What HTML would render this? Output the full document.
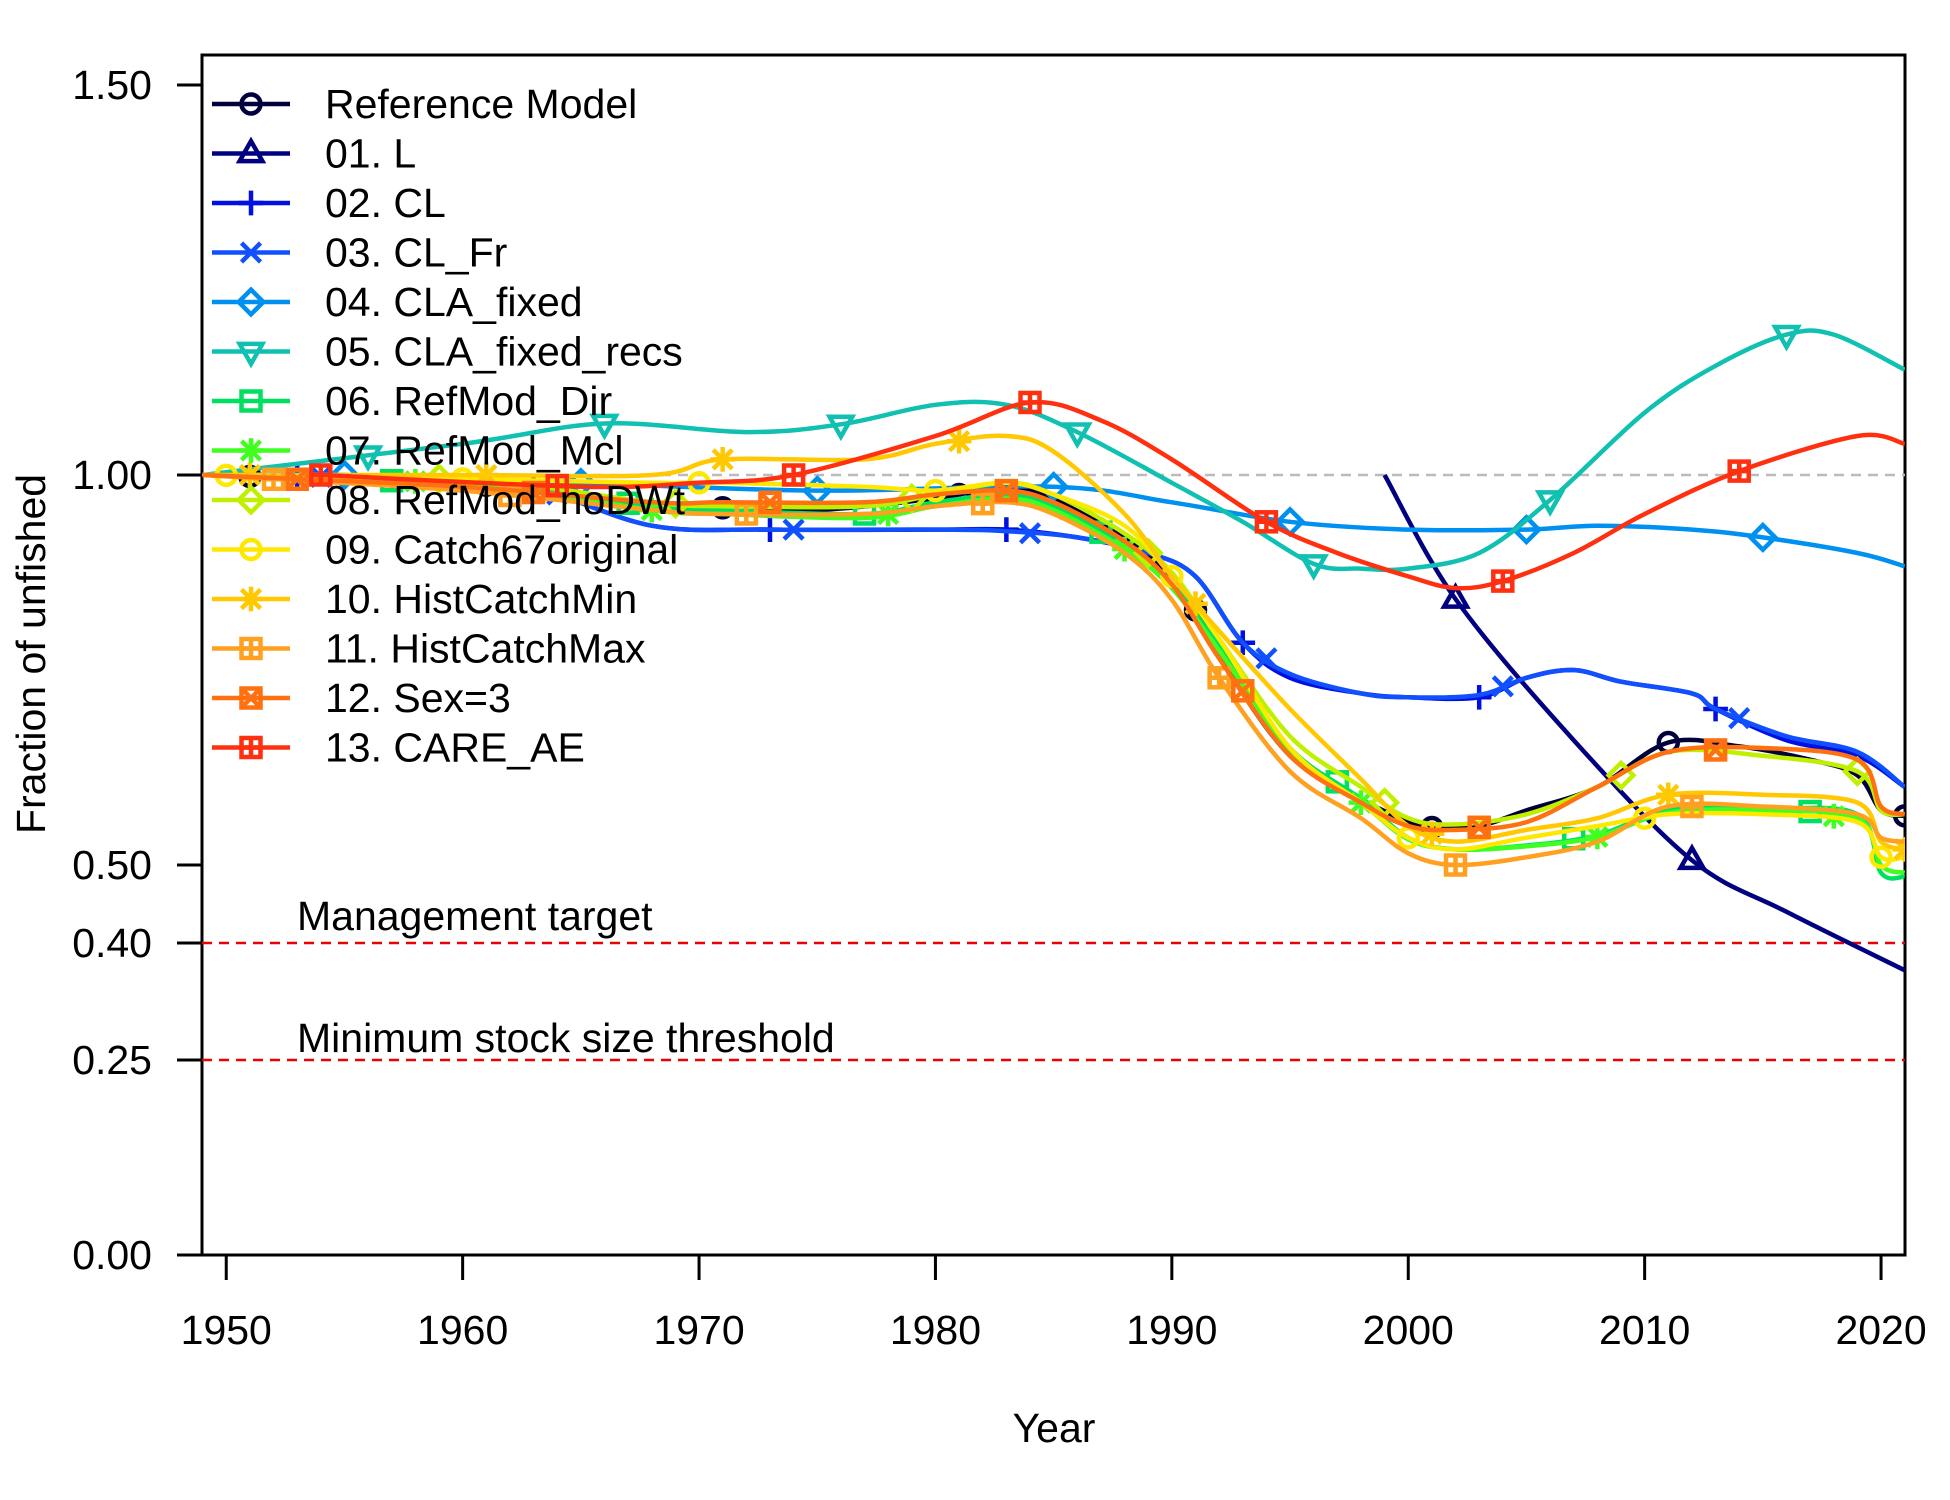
<!DOCTYPE html>
<html><head><meta charset="utf-8">
<style>
html,body{margin:0;padding:0;background:#fff;}
svg{display:block;font-family:"Liberation Sans",Arial,sans-serif;}
</style></head>
<body>
<svg id="chart" width="1950" height="1500" viewBox="0 0 1950 1500">
<g id="axes"></g><g id="series"></g><g id="legend"></g>
</svg>
<script>
const NS="http://www.w3.org/2000/svg";
const tickYears=[1950,1960,1970,1980,1990,2000,2010,2020];
const yTickVals=[0,0.25,0.4,0.5,1.0,1.5];
const yTickLabels=["0.00","0.25","0.40","0.50","1.00","1.50"];
const seriesNames=["Reference Model","01. L","02. CL","03. CL_Fr","04. CLA_fixed","05. CLA_fixed_recs","06. RefMod_Dir","07. RefMod_Mcl","08. RefMod_noDWt","09. Catch67original","10. HistCatchMin","11. HistCatchMax","12. Sex=3","13. CARE_AE"];
const seriesColors=["#00003a","#000080","#0010e0","#1050ff","#0090f0","#10c0b0","#00e060","#40ff20","#c0f000","#ffe800","#ffc800","#ffa020","#ff7010","#ff3010"];
const seriesMarkers=["circle","tri","plus","x","diamond","tridown","square","star","diamond","circle","star","squarep","squarex","squarep"];
const refYears=[1949,1960,1968,1971,1975,1980,1983,1985,1988,1990,1991,1993,1995,1997,2000,2001,2003,2005,2008,2011,2014,2017,2019,2020,2021];
const refVals=[1.0,0.99,0.965,0.958,0.955,0.97,0.985,0.97,0.92,0.87,0.827,0.72,0.64,0.6,0.555,0.548,0.55,0.57,0.6,0.657,0.652,0.635,0.615,0.57,0.563];
const lYears=[1999,2002,2007,2012,2016,2021];
const lVals=[1.0,0.841,0.66,0.506,0.44,0.365];
const clYears=[1952,1960,1963,1968,1973,1980,1983,1986,1989,1991,1993,1995,1998,2000,2003,2005,2007,2009,2012,2013,2016,2019,2021];
const clVals=[1.0,0.99,0.985,0.935,0.93,0.93,0.93,0.92,0.9,0.87,0.785,0.74,0.72,0.715,0.715,0.74,0.75,0.735,0.72,0.70,0.66,0.64,0.6];
const clfrVals=[1.0,0.99,0.985,0.935,0.93,0.93,0.928,0.92,0.9,0.87,0.785,0.745,0.72,0.715,0.718,0.74,0.75,0.735,0.72,0.70,0.665,0.645,0.6];
const claYears=[1949,1955,1965,1975,1985,1990,1995,2000,2005,2008,2012,2015,2019,2021];
const claVals=[1.0,1.0,0.99,0.98,0.985,0.965,0.94,0.93,0.93,0.935,0.93,0.92,0.9,0.883];
const recYears=[1949,1960,1966,1972,1976,1980,1983,1986,1990,1993,1996,1998,2000,2003,2006,2010,2013,2016,2018,2021];
const recVals=[1.0,1.04,1.066,1.055,1.065,1.09,1.09,1.055,0.99,0.94,0.886,0.88,0.88,0.9,0.968,1.08,1.14,1.18,1.18,1.135];
const hiYears=[1949,1960,1968,1971,1977,1980,1983,1985,1988,1990,1992,1995,1998,2000,2002,2005,2008,2011,2015,2019,2020,2021];
const dirVals=[1.0,0.99,0.96,0.955,0.95,0.965,0.975,0.96,0.91,0.86,0.78,0.65,0.585,0.535,0.52,0.525,0.538,0.57,0.572,0.565,0.49,0.485];
const mclVals=[1.0,0.99,0.955,0.95,0.945,0.96,0.97,0.955,0.905,0.855,0.775,0.648,0.58,0.533,0.52,0.524,0.536,0.567,0.57,0.56,0.5,0.49];
const nodwVals=[1.0,0.995,0.965,0.96,0.96,0.975,0.99,0.975,0.925,0.875,0.79,0.665,0.6,0.56,0.552,0.565,0.6,0.645,0.64,0.62,0.57,0.565];
const c67Vals=[1.0,0.995,0.99,0.99,0.985,0.98,0.99,0.975,0.935,0.87,0.79,0.65,0.58,0.535,0.52,0.535,0.55,0.565,0.565,0.555,0.51,0.51];
const minVals=[1.0,1.0,1.0,1.02,1.02,1.04,1.05,1.03,0.95,0.87,0.8,0.7,0.61,0.55,0.53,0.545,0.56,0.59,0.59,0.58,0.53,0.52];
const maxVals=[1.0,0.98,0.955,0.95,0.95,0.96,0.965,0.95,0.9,0.84,0.74,0.62,0.56,0.515,0.5,0.51,0.53,0.575,0.575,0.565,0.535,0.53];
const sexVals=[1.0,0.985,0.965,0.965,0.965,0.975,0.98,0.965,0.915,0.86,0.765,0.64,0.58,0.55,0.545,0.555,0.6,0.645,0.65,0.635,0.575,0.565];
const careYears=[1954,1965,1970,1974,1980,1984,1987,1990,1994,1997,2000,2002,2004,2007,2010,2014,2019,2021];
const careVals=[1.0,0.985,0.99,1.0,1.05,1.093,1.07,1.02,0.94,0.9,0.87,0.855,0.864,0.9,0.95,1.005,1.05,1.04];
const seriesYears=[refYears,lYears,clYears,clYears,claYears,recYears,hiYears,hiYears,hiYears,hiYears,hiYears,hiYears,hiYears,careYears];
const seriesVals=[refVals,lVals,clVals,clfrVals,claVals,recVals,dirVals,mclVals,nodwVals,c67Vals,minVals,maxVals,sexVals,careVals];
const markerYears=[[1951,1961,1971,1981,1991,2001,2011,2021],[2002,2012],[1953,1963,1973,1983,1993,2003,2013],[1954,1964,1974,1984,1994,2004,2014],[1955,1965,1975,1985,1995,2005,2015],[1956,1966,1976,1986,1996,2006,2016],[1957,1967,1977,1987,1997,2007,2017],[1958,1968,1978,1988,1998,2008,2018],[1959,1969,1979,1989,1999,2009,2019],[1950,1960,1970,1980,1990,2000,2010,2020],[1951,1961,1971,1981,1991,2001,2011,2021],[1952,1962,1972,1982,1992,2002,2012],[1953,1963,1973,1983,1993,2003,2013],[1954,1964,1974,1984,1994,2004,2014]];

const L=202,R=1905,T=55,B=1255;
const xs=yr=>226.25+(yr-1950)*23.64;
const ys=v=>B-v*780;
function el(tag,attrs,parent,text){const e=document.createElementNS(NS,tag);for(const k in attrs)e.setAttribute(k,attrs[k]);if(text!==undefined)e.textContent=text;parent.appendChild(e);return e;}
function interp(yrs,vals,y){if(y<=yrs[0])return vals[0];for(let i=1;i<yrs.length;i++){if(y<=yrs[i]){const t=(y-yrs[i-1])/(yrs[i]-yrs[i-1]);return vals[i-1]+t*(vals[i]-vals[i-1]);}}return vals[vals.length-1];}
function smoothPath(pts){let d="M"+pts[0][0].toFixed(1)+","+pts[0][1].toFixed(1);for(let i=0;i<pts.length-1;i++){const p0=pts[Math.max(0,i-1)],p1=pts[i],p2=pts[i+1],p3=pts[Math.min(pts.length-1,i+2)];const c1=[p1[0]+(p2[0]-p0[0])/6,p1[1]+(p2[1]-p0[1])/6],c2=[p2[0]-(p3[0]-p1[0])/6,p2[1]-(p3[1]-p1[1])/6];d+="C"+c1[0].toFixed(1)+","+c1[1].toFixed(1)+" "+c2[0].toFixed(1)+","+c2[1].toFixed(1)+" "+p2[0].toFixed(1)+","+p2[1].toFixed(1);}return d;}
function marker(g,type,x,y,c){const s=9.5,a={stroke:c,"stroke-width":4.5,fill:"none"};
 if(type==="circle")el("circle",Object.assign({cx:x,cy:y,r:s},a),g);
 else if(type==="tri")el("polygon",Object.assign({points:`${x},${y-s*1.3} ${x-s*1.2},${y+s*0.8} ${x+s*1.2},${y+s*0.8}`},a),g);
 else if(type==="tridown")el("polygon",Object.assign({points:`${x},${y+s*1.3} ${x-s*1.2},${y-s*0.8} ${x+s*1.2},${y-s*0.8}`},a),g);
 else if(type==="plus")el("path",Object.assign({d:`M${x-s*1.3},${y}H${x+s*1.3}M${x},${y-s*1.3}V${y+s*1.3}`},a),g);
 else if(type==="x")el("path",Object.assign({d:`M${x-s},${y-s}L${x+s},${y+s}M${x-s},${y+s}L${x+s},${y-s}`},a),g);
 else if(type==="diamond")el("polygon",Object.assign({points:`${x},${y-s*1.3} ${x+s*1.3},${y} ${x},${y+s*1.3} ${x-s*1.3},${y}`},a),g);
 else if(type==="square")el("rect",Object.assign({x:x-s,y:y-s,width:2*s,height:2*s},a),g);
 else if(type==="squarep"){el("rect",Object.assign({x:x-s,y:y-s,width:2*s,height:2*s},a),g);el("path",Object.assign({d:`M${x-s},${y}H${x+s}M${x},${y-s}V${y+s}`},a),g);}
 else if(type==="squarex"){el("rect",Object.assign({x:x-s,y:y-s,width:2*s,height:2*s},a),g);el("path",Object.assign({d:`M${x-s},${y-s}L${x+s},${y+s}M${x-s},${y+s}L${x+s},${y-s}`},a),g);}
 else if(type==="star"){el("path",Object.assign({d:`M${x-s*1.3},${y}H${x+s*1.3}M${x},${y-s*1.3}V${y+s*1.3}M${x-s},${y-s}L${x+s},${y+s}M${x-s},${y+s}L${x+s},${y-s}`},a),g);}
}
const axes=document.getElementById("axes");
el("rect",{x:L,y:T,width:R-L,height:B-T,fill:"none",stroke:"#000","stroke-width":3,},axes);
tickYears.forEach(y=>{const x=xs(y);
 const t=el("line",{x1:x,x2:x,y1:B,y2:B+25,stroke:"#000","stroke-width":3},axes);
 
 const l=el("text",{x:x,y:1344,"font-size":41,"text-anchor":"middle"},axes,String(y));
 });
yTickVals.forEach((v,i)=>{const y=ys(v);
 const t=el("line",{x1:L-25,x2:L,y1:y,y2:y,stroke:"#000","stroke-width":3},axes);
 
 const l=el("text",{x:152,y:y+14,"font-size":41,"text-anchor":"end"},axes,yTickLabels[i]);
 });
el("text",{x:1054,y:1442,"font-size":41,"text-anchor":"middle",},axes,"Year");
el("text",{x:45,y:654,"font-size":41,"text-anchor":"middle",transform:"rotate(-90 45 654)",},axes,"Fraction of unfished");
el("line",{x1:L,x2:R,y1:ys(1),y2:ys(1),stroke:"#bbb","stroke-width":2.5,"stroke-dasharray":"10,7",},axes);
el("line",{x1:L,x2:R,y1:ys(0.4),y2:ys(0.4),stroke:"#ee0000","stroke-width":2.5,"stroke-dasharray":"10,7",},axes);
el("line",{x1:L,x2:R,y1:ys(0.25),y2:ys(0.25),stroke:"#ee0000","stroke-width":2.5,"stroke-dasharray":"10,7",},axes);
el("text",{x:297,y:930,"font-size":41,},axes,"Management target");
el("text",{x:297,y:1052,"font-size":41,},axes,"Minimum stock size threshold");
const sg=document.getElementById("series");
const clip=el("clipPath",{id:"pc"},sg);el("rect",{x:L,y:T,width:R-L,height:B-T},clip);
for(let s=0;s<seriesNames.length;s++){
 const g=el("g",{"clip-path":"url(#pc)"},sg);
 
 
 const yrs=seriesYears[s],vals=seriesVals[s];
 const pts=yrs.map((y,i)=>[xs(y),ys(vals[i])]);
 const p=el("path",{d:smoothPath(pts),fill:"none",stroke:seriesColors[s],"stroke-width":4.5},g);
 
 markerYears[s].forEach(my=>{if(my<yrs[0]||my>yrs[yrs.length-1]+0.5)return;marker(g,seriesMarkers[s],xs(my),ys(interp(yrs,vals,my)),seriesColors[s]);});
}
const lg=document.getElementById("legend");
seriesNames.forEach((n,i)=>{const y=104+49.5*i;
 const g=el("g",{},lg);
 
 el("line",{x1:212,x2:290,y1:y,y2:y,stroke:seriesColors[i],"stroke-width":4.5},g);
 marker(g,seriesMarkers[i],251,y,seriesColors[i]);
 el("text",{x:325,y:y+14,"font-size":41},g,n);});
</script>
</body></html>
